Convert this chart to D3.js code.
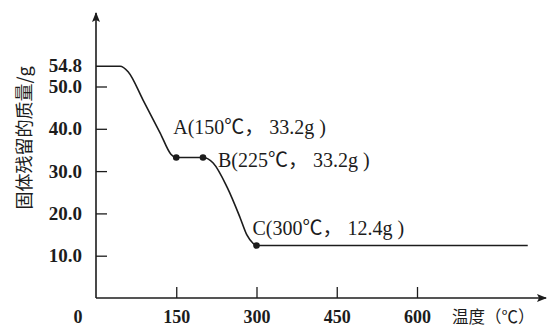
<!DOCTYPE html>
<html>
<head>
<meta charset="utf-8">
<script src="https://cdn.jsdelivr.net/npm/d3@7"></script>
<style>
  body { margin: 0; background: #fff; }
</style>
</head>
<body>
<div id="chart"></div>
<script>
// tick values
const xTicks = [150, 300, 450, 600];
const yTicks = [10, 20, 30, 40, 50];
const yTickLabels = ['10.0', '20.0', '30.0', '40.0', '50.0'];
const startMass = 54.8;

// mass curve (temperature, mass)
const curveT = [0, 45, 60, 88, 120, 140, 150, 200, 219, 245, 269, 282, 293, 300, 807];
const curveM = [54.8, 54.8, 53.5, 46.8, 39.0, 34.0, 33.2, 33.2, 31.9, 26.2, 19.1, 14.9, 13.0, 12.4, 12.4];

// marked points
const pointNames = ['A', 'B', 'C'];
const pointT = [150, 200, 300];
const pointM = [33.2, 33.2, 12.4];
const pointLabels = ['A(150℃， 33.2g )', 'B(225℃， 33.2g )', 'C(300℃， 12.4g )'];

const xTitle = '温度（℃）';
const yTitle = '固体残留的质量/g';

const width = 547, height = 327;
const serif = '"Liberation Serif", "Times New Roman", serif';
const cjk = '"Noto Sans CJK SC", sans-serif';
const ink = '#1c1c1c';

const svg = d3.select('#chart').append('svg')
    .attr('width', width)
    .attr('height', height);

const x = d3.scaleLinear().domain([0, 600]).range([96, 417]);
const y = d3.scaleLinear().domain([0, 50]).range([298, 86.5]);

function tickText(sel, size) {
  sel.attr('font-family', serif).attr('font-size', size)
     .attr('font-weight', 'bold').attr('fill', ink);
}

// arrow marker
svg.append('defs').append('marker')
    .attr('id', 'arr')
    .attr('viewBox', '0 0 10 10')
    .attr('refX', 9).attr('refY', 5)
    .attr('markerWidth', 10).attr('markerHeight', 10)
    .attr('markerUnits', 'userSpaceOnUse')
    .attr('orient', 'auto')
    .append('path')
    .attr('d', 'M0,1 L10,5 L0,9 L2,5 Z')
    .attr('fill', ink);

// axes lines
svg.append('line')
    .attr('x1', x(0)).attr('y1', y(0))
    .attr('x2', 546).attr('y2', y(0))
    .attr('stroke', ink).attr('stroke-width', 1.6)
    .attr('marker-end', 'url(#arr)');
svg.append('line')
    .attr('x1', x(0)).attr('y1', y(0))
    .attr('x2', x(0)).attr('y2', 13)
    .attr('stroke', ink).attr('stroke-width', 1.6)
    .attr('marker-end', 'url(#arr)');

// x axis ticks
const gx = svg.append('g')
    .attr('transform', `translate(0,${y(0)})`)
    .call(d3.axisBottom(x).tickValues(xTicks).tickSizeInner(-11).tickSizeOuter(0).tickPadding(12));
gx.select('.domain').remove();
gx.selectAll('line').attr('stroke', ink).attr('stroke-width', 1.3);
gx.selectAll('text').call(tickText, 18);

svg.append('text')
    .attr('x', x(0) - 18).attr('y', y(0) + 12)
    .attr('dy', '0.71em')
    .attr('text-anchor', 'middle')
    .call(tickText, 18)
    .text('0');

// y axis ticks
const gy = svg.append('g')
    .attr('transform', `translate(${x(0)},0)`)
    .call(d3.axisLeft(y).tickValues(yTicks).tickFormat((d, i) => yTickLabels[i])
        .tickSizeInner(-11).tickSizeOuter(0).tickPadding(14));
gy.select('.domain').remove();
gy.selectAll('line').attr('stroke', ink).attr('stroke-width', 1.3);
gy.selectAll('text').call(tickText, 19);

svg.append('text')
    .attr('x', x(0) - 14).attr('y', y(startMass))
    .attr('dy', '0.32em')
    .attr('text-anchor', 'end')
    .call(tickText, 19)
    .text(startMass.toFixed(1));

// titles
svg.append('text')
    .attr('transform', 'translate(31,138) rotate(-90)')
    .attr('text-anchor', 'middle')
    .attr('font-family', cjk).attr('font-size', 18)
    .attr('fill', ink)
    .text(yTitle);

svg.append('text')
    .attr('x', 452).attr('y', 323)
    .attr('font-family', cjk).attr('font-size', 16.5)
    .attr('fill', ink)
    .text(xTitle);

// curve
const line = d3.line()
    .x((d, i) => x(curveT[i]))
    .y((d, i) => y(curveM[i]))
    .curve(d3.curveMonotoneX);

svg.append('path')
    .datum(curveT)
    .attr('d', line)
    .attr('fill', 'none')
    .attr('stroke', ink)
    .attr('stroke-width', 1.6);

// points
svg.selectAll('circle.pt')
    .data(pointNames)
    .enter().append('circle')
    .attr('class', 'pt')
    .attr('cx', (d, i) => x(pointT[i]))
    .attr('cy', (d, i) => y(pointM[i]))
    .attr('r', 3.3)
    .attr('fill', ink);

// point labels: ℃ and full-width comma set in the CJK face
const labelDx = [-3, 15, -4];
const labelDy = [-24, 9, -11];
const lbl = svg.selectAll('text.lbl')
    .data(pointNames)
    .enter().append('text')
    .attr('class', 'lbl')
    .attr('x', (d, i) => x(pointT[i]) + labelDx[i])
    .attr('y', (d, i) => y(pointM[i]) + labelDy[i])
    .attr('font-family', serif).attr('font-size', 20)
    .attr('fill', ink);

lbl.each(function(d, i) {
  const parts = pointLabels[i].split(/([℃，])/).filter(s => s.length);
  d3.select(this).selectAll('tspan')
      .data(parts)
      .enter().append('tspan')
      .attr('font-family', s => /[℃，]/.test(s) ? cjk : serif)
      .attr('xml:space', 'preserve')
      .text(s => s);
});
</script>
</body>
</html>
